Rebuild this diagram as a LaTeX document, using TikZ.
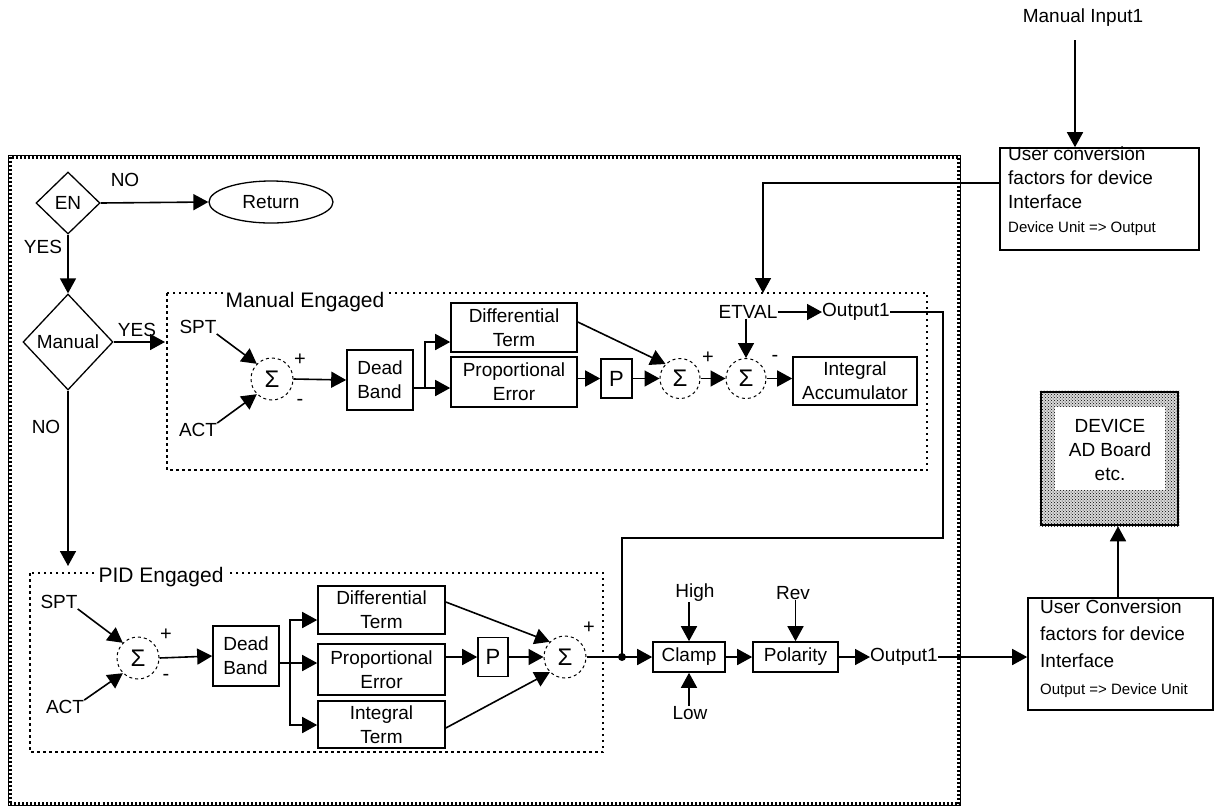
\documentclass[tikz,border=0pt]{standalone}
\usepackage{fontspec}
\setmainfont{Liberation Sans}
\usetikzlibrary{arrows.meta,shapes.geometric,patterns,calc}
\begin{document}
\begin{tikzpicture}[x=1pt,y=-1pt,
 every node/.style={font=\fontsize{19}{24}\selectfont, inner sep=0pt},
 ln/.style={line width=1.6pt},
 arr/.style={line width=1.6pt,-{Triangle[length=15pt,width=16pt]}},
 blk/.style={draw, line width=1.6pt, rectangle, align=center},
 sumc/.style={draw, circle, dashed, line width=1pt, minimum size=42pt, font=\fontsize{24}{24}\selectfont},
 grp/.style={line width=1.3pt, dash pattern=on 2.5pt off 3.5pt},
 pm/.style={font=\fontsize{20}{20}\selectfont},
 dia/.style={draw, diamond, line width=1.3pt},
]
\useasboundingbox (0,0) rectangle (1215,807);

% outer frame
\draw[line width=1pt] (8,155) rectangle (960,805);
\draw[line width=4pt, dash pattern=on 2pt off 2pt] (9.5,156.5) rectangle (958.5,803.5);

% top flow
\node[dia, minimum width=64pt, minimum height=62pt] (en) at (68,203) {EN};
\node[draw, ellipse, line width=1.3pt, minimum width=124pt, minimum height=42pt] (ret) at (271,202) {Return};
\draw[arr] (en.east) -- (ret.west);
\node (no1) at (125,180) {NO};
\node[dia, minimum width=90pt, minimum height=96pt] (man) at (68,342) {Manual};
\draw[arr] (en.south) -- (man.north);
\node (yes1) at (43,247) {YES};
\coordinate (meL) at (165,342);
\draw[arr] (man.east) -- (meL);
\node (yes2) at (137,330) {YES};
\coordinate (pidT) at (68,566);
\draw[arr] (man.south) -- (pidT);
\node (no2) at (46,427) {NO};

% Manual Engaged group
\draw[grp] (167,293) rectangle (927,470);
\node[fill=white, inner xsep=3pt, font=\fontsize{21}{21}\selectfont, anchor=base] (metitle) at (305,307) {Manual Engaged};
\node (spt1) at (198,327) {SPT};
\node (act1) at (198,430) {ACT};
\node[sumc] (s1) at (272,379) {Σ};
\node[pm] at (300,360) {+};
\node[pm] at (300,402) {-};
\node[blk, minimum width=66pt, minimum height=60pt, align=left] (db1) at (380,380) {Dead\\Band};
\node[blk, minimum width=126pt, minimum height=49pt] (diff1) at (514,327.5) {Differential\\Term};
\node[blk, minimum width=126pt, minimum height=50pt] (prop1) at (514,382) {Proportional\\Error};
\node[blk, minimum width=31pt, minimum height=39pt, font=\fontsize{22}{22}\selectfont] (p1) at (616.5,378.5) {P};
\node[sumc, minimum size=40pt] (s2) at (680,378.5) {Σ};
\node[sumc, minimum size=40pt] (s3) at (746,378.5) {Σ};
\node[pm] at (708,358) {+};
\node[pm] at (775,358) {-};
\node[blk, minimum width=124pt, minimum height=48pt] (ia) at (855,381) {Integral\\Accumulator};
\node (etval) at (748,312) {ETVAL};
\node (out1) at (856,312) {Output1};

\draw[arr] (spt1.south east) -- (s1.135);
\draw[arr] (act1.north east) -- (s1.225);
\draw[arr] (s1.east) -- (db1.west);
\coordinate (b1) at (425,388);
\draw[ln] (db1.east |- b1) -- (b1);
\draw[arr] (b1) |- (diff1.west |- 0,342);
\draw[arr] (b1) -- (prop1.west |- b1);
\draw[arr] (prop1.east |- p1) -- (p1.west);
\draw[arr] (p1.east) -- (s2.west);
\draw[arr] (diff1.east |- 0,322) -- (s2.135);
\draw[arr] (s2.east) -- (s3.west);
\draw[arr] (etval.south -| s3.north) -- (s3.north);
\draw[arr] (s3.east) -- (ia.west |- s3.east);
\draw[arr] (etval.east) -- (out1.west);

% PID Engaged group
\draw[grp] (30,573) rectangle (603,752);
\node[fill=white, inner xsep=3pt, font=\fontsize{21}{21}\selectfont, anchor=base] (pidtitle) at (161,582) {PID Engaged};
\node (spt2) at (59,602) {SPT};
\node (act2) at (65,707) {ACT};
\node[sumc] (s4) at (138,658) {Σ};
\node[pm] at (166,635) {+};
\node[pm] at (166,677) {-};
\node[blk, minimum width=66pt, minimum height=60pt, align=left] (db2) at (246,656) {Dead\\Band};
\node[blk, minimum width=127pt, minimum height=48pt] (diff2) at (381.5,610) {Differential\\Term};
\node[blk, minimum width=127pt, minimum height=51pt] (prop2) at (381.5,669.5) {Proportional\\Error};
\node[blk, minimum width=127pt, minimum height=47pt] (int2) at (381.5,724.5) {Integral\\Term};
\node[blk, minimum width=30pt, minimum height=39pt, font=\fontsize{22}{22}\selectfont] (p2) at (493,657) {P};
\node[sumc] (s5) at (565,657) {Σ};
\node[pm] at (589,628) {+};

\draw[arr] (spt2.south east) -- (s4.135);
\draw[arr] (act2.north east) -- (s4.225);
\draw[arr] (s4.east) -- (db2.west);
\coordinate (b2) at (290,663);
\draw[ln] (db2.east |- b2) -- (b2);
\draw[arr] (b2) |- (diff2.west |- 0,620);
\draw[arr] (b2) -- (prop2.west |- b2);
\draw[arr] (b2) |- (int2.west |- 0,725);
\draw[arr] (prop2.east |- p2) -- (p2.west);
\draw[arr] (p2.east) -- (s5.west);
\draw[arr] (diff2.east |- 0,602) -- (s5.135);
\draw[arr] (int2.east |- 0,728) -- (s5.225);

% output stage
\coordinate (jn) at (622,657);
\draw[ln] (s5.east) -- (jn);
\fill (jn) circle (4);
\draw[ln] (out1.east) -| (943,538) -| (jn);
\node[blk, minimum width=72pt, minimum height=30pt] (clamp) at (689,657) {Clamp};
\node[blk, minimum width=85pt, minimum height=30pt] (pol) at (795.5,657) {Polarity};
\node (high) at (695,593) {High};
\node (low) at (690,713) {Low};
\node (rev) at (793,593) {Rev};
\node (out2) at (904,657) {Output1};
\draw[arr] (jn) -- (clamp.west);
\draw[arr] (high.south -| clamp.north) -- (clamp.north);
\draw[arr] (low.north -| clamp.south) -- (clamp.south);
\draw[arr] (clamp.east) -- (pol.west);
\draw[arr] (rev.south -| pol.north) -- (pol.north);
\draw[arr] (pol.east) -- (out2.west);

% right side
\node[blk, minimum width=199pt, minimum height=102pt] (ucf1) at (1099.5,199) {};
\node[anchor=north west, align=left] (ucf1t) at (1008,147) {User conversion\\factors for device\\Interface\\{\fontsize{15}{15}\selectfont Device Unit => Output}};
\node (mi) at (1083,18) {Manual Input1};
\coordinate (miA) at (1075,40);
\draw[arr] (miA) -- (ucf1.north -| miA);
\coordinate (etIn) at (763,293);
\draw[arr] (ucf1.west |- 0,183) -| (etIn);

\node[blk, minimum width=185pt, minimum height=112pt] (ucf2) at (1120.5,654) {};
\node[anchor=north west, align=left, font=\fontsize{19}{27}\selectfont] (ucf2t) at (1040,600) {User Conversion\\factors for device\\Interface\\{\fontsize{15}{15}\selectfont Output => Device Unit}};
\draw[arr] (out2.east) -- (ucf2.west |- out2);

\node[draw, line width=2.5pt, fill=gray!30, minimum width=137pt, minimum height=133pt] (dev) at (1109.5,458.5) {};
\fill[pattern=crosshatch dots] (dev.south west) rectangle (dev.north east);
\fill[white] (1055,407) rectangle (1165,490);
\node[align=center] (devt) at (1110,450) {DEVICE\\AD Board\\etc.};
\draw[arr] (ucf2.north -| 1118,0) -- (dev.south -| 1118,0);
\end{tikzpicture}
\end{document}
